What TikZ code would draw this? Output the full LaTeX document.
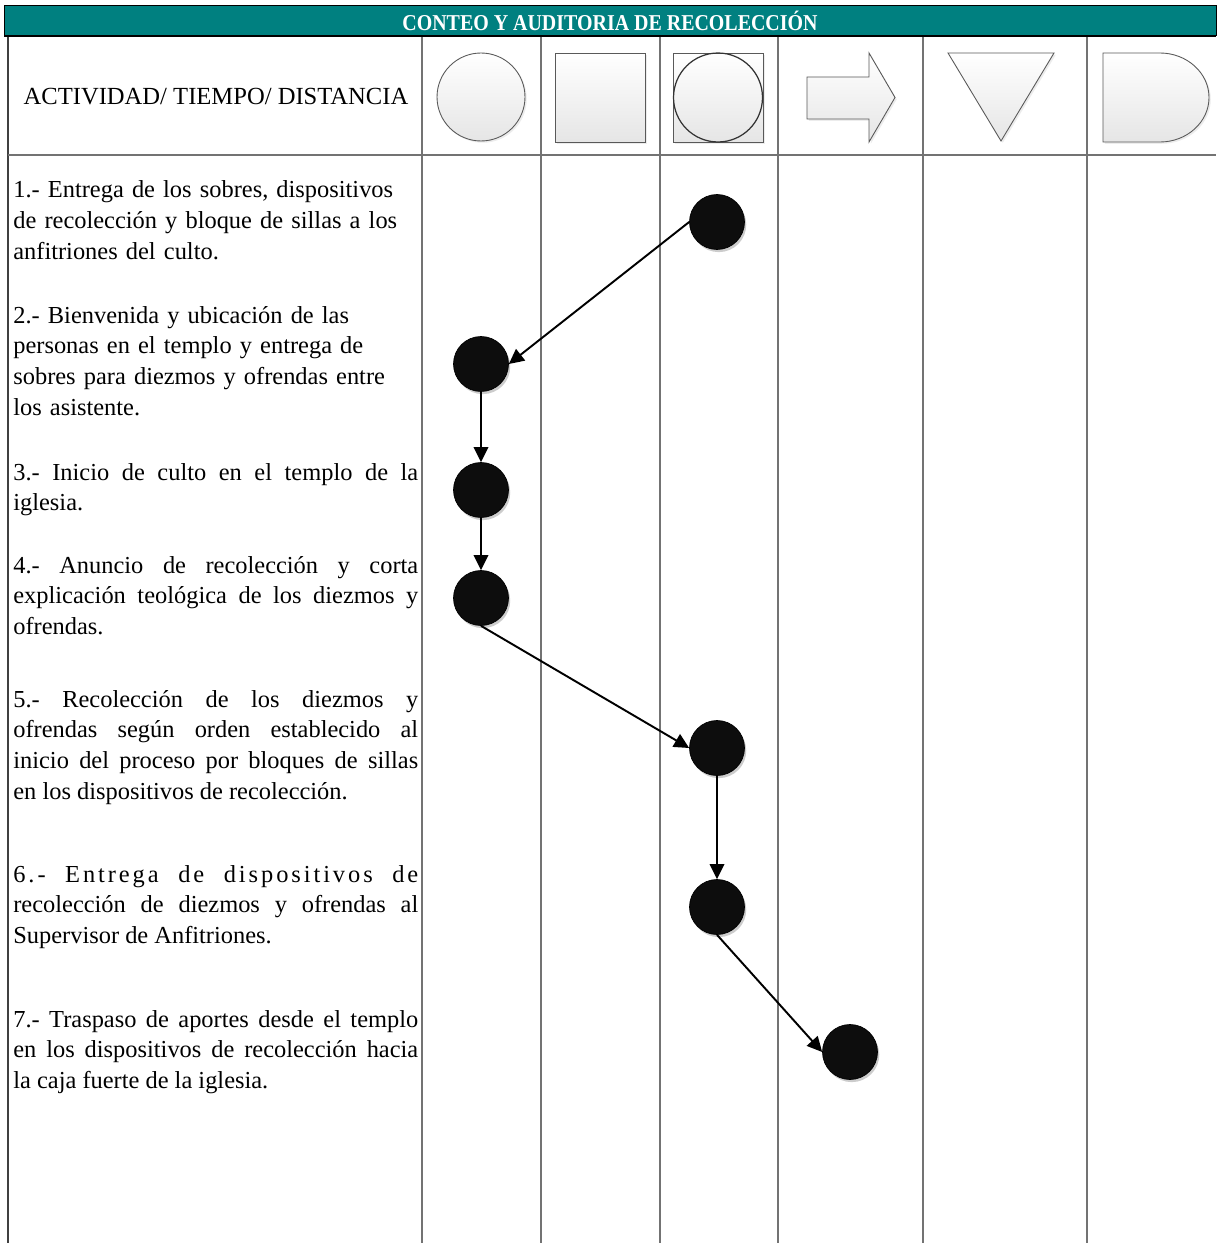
\documentclass[tikz,border=0pt]{standalone}
\usepackage{fontspec}
\setmainfont{Liberation Serif}
\newfontfamily\titlefont{Liberation Serif}[FakeStretch=0.88]
\usetikzlibrary{arrows.meta,shadows}
\definecolor{tealbar}{RGB}{0,128,128}

\begin{document}
\begin{tikzpicture}[
    x=0.02cm, y=-0.02cm,
    titlebar/.style={draw=black, fill=tealbar},
    colline/.style={draw=black!55, line width=0.6pt},
    symbol/.style={draw=black!65, line width=0.5pt, top color=white, bottom color=black!10, drop shadow={opacity=0.15, shadow xshift=1pt, shadow yshift=-1pt}},
    actividad/.style={anchor=base west, text width=8.1cm, inner sep=0pt, font=\fontsize{13.9}{17.6}\selectfont},
    paso/.style={circle, draw=black, fill=black!95, minimum size=1.1cm, inner sep=0pt, drop shadow={opacity=0.4, shadow xshift=1pt, shadow yshift=-1.5pt}},
    flecha/.style={line width=1.1pt, -{Triangle[length=3mm,width=2.9mm]}}
]

% Page
\useasboundingbox (0,0) rectangle (1216,1243);
\fill[white] (0,0) rectangle (1216,1243);

% Title bar
\draw[titlebar] (4,5) rectangle (1216,35);
\node[text=white, font=\titlefont\bfseries\fontsize{12.9}{14}\selectfont] (titulo) at (610,21) {CONTEO Y AUDITORIA DE RECOLECCIÓN};
\draw[line width=1.7pt] (4,36) -- (1216,36);

% Columns
\draw[line width=0.9pt, black!75] (8,37) -- (8,1243);
\foreach \x in {422,541,660,778,923,1087}
    \draw[colline] (\x,37) -- (\x,1243);
\draw[line width=1.1pt, black!55] (8,155) -- (1216,155);

% Header
\node[font=\fontsize{14}{17}\selectfont] (encabezado) at (216,97) {ACTIVIDAD/ TIEMPO/ DISTANCIA};

\node[symbol, circle, minimum size=1.76cm, inner sep=0pt] (operacion) at (481,97) {};
\node[symbol, rectangle, minimum width=1.8cm, minimum height=1.78cm] (inspeccion) at (600,97.5) {};
\node[symbol, rectangle, minimum width=1.8cm, minimum height=1.78cm] (combinada) at (718,97.5) {};
\node[circle, draw=black!80, line width=0.7pt, minimum size=1.78cm, inner sep=0pt] (combinadacirc) at (combinada) {};
\path[symbol] (807,77) -- (869,77) -- (869,53) -- (895,97.5) -- (869,142) -- (869,119) -- (807,119) -- cycle;
\path[symbol] (948,53) -- (1054,53) -- (1001,141) -- cycle;
\path[symbol] (1103,53) -- (1160,53) .. controls (1187,53) and (1209,73) .. (1209,97.5)
    .. controls (1209,122) and (1187,142) .. (1160,142) -- (1103,142) -- cycle;

% Activities
\node[actividad, align=left] (act1) at (13,198) {1.- Entrega de los sobres, dispositivos\\de recolección y bloque de sillas a los\\anfitriones del culto.};
\node[actividad, align=left] (act2) at (13,323) {2.- Bienvenida y ubicación de las\\personas en el templo y entrega de\\sobres para diezmos y ofrendas entre\\los asistente.};
\node[actividad, align=justify] (act3) at (13,480) {3.- Inicio de culto en el templo de la\linebreak iglesia.};
\node[actividad, align=justify] (act4) at (13,573) {4.- Anuncio de recolección y corta\linebreak explicación teológica de los diezmos y\linebreak ofrendas.};
\node[actividad, align=justify] (act5) at (13,707) {5.- Recolección de los diezmos y\linebreak ofrendas según orden establecido al\linebreak inicio del proceso por bloques de sillas\linebreak en los dispositivos de recolección.};
\node[actividad, align=justify] (act6) at (13,882) {{\addfontfeature{LetterSpace=12}6.- Entrega de dispositivos de}\linebreak recolección de diezmos y ofrendas al\linebreak Supervisor de Anfitriones.};
\node[actividad, align=justify] (act7) at (13,1027) {7.- Traspaso de aportes desde el templo\linebreak en los dispositivos de recolección hacia\linebreak la caja fuerte de la iglesia.};

% Steps
\node[paso] (p1) at (717,222) {};
\node[paso] (p2) at (481,364) {};
\node[paso] (p3) at (481,490) {};
\node[paso] (p4) at (481,598) {};
\node[paso] (p5) at (717,748) {};
\node[paso] (p6) at (717,907) {};
\node[paso] (p7) at (850,1052) {};

% Arrows
\draw[flecha] (p1.west) -- (p2.east);
\draw[flecha] (p2.south) -- (p3.north);
\draw[flecha] (p3.south) -- (p4.north);
\draw[flecha] (p4.south) -- (p5.west);
\draw[flecha] (p5.south) -- (p6.north);
\draw[flecha] (p6.south) -- (p7.west);

\end{tikzpicture}
\end{document}
